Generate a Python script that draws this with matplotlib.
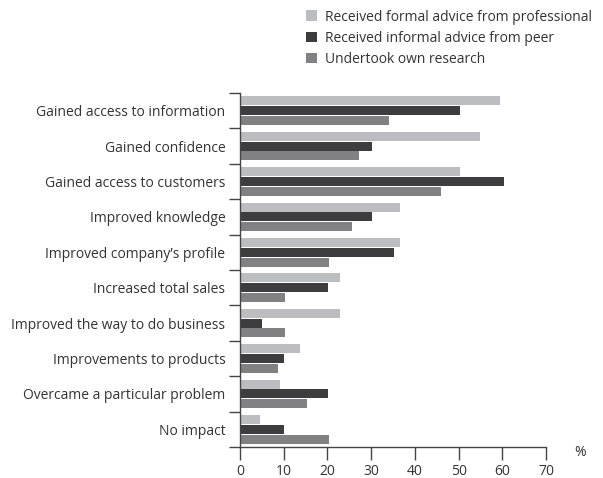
import numpy as np
import matplotlib.pyplot as plt
from matplotlib.patches import Patch

categories = [
    'Gained access to information',
    'Gained confidence',
    'Gained access to customers',
    'Improved knowledge',
    "Improved company\u2019s profile",
    'Increased total sales',
    'Improved the way to do business',
    'Improvements to products',
    'Overcame a particular problem',
    'No impact',
]
formal = [59.5, 54.9, 50.3, 36.6, 36.6, 22.9, 22.9, 13.7, 9.2, 4.6]
informal = [50.3, 30.2, 60.4, 30.2, 35.2, 20.1, 5.0, 10.1, 20.1, 10.1]
research = [34.1, 27.2, 46.0, 25.6, 20.4, 10.3, 10.3, 8.7, 15.3, 20.4]

series_names = ['Received formal advice from professional',
                'Received informal advice from peer',
                'Undertook own research']
colors = ['#bcbdc0', '#3d3d3f', '#818184']

plt.rcParams['font.family'] = ['Open Sans', 'DejaVu Sans']
text_col = '#333333'

fig = plt.figure(figsize=(6.03, 4.78), dpi=100)
ax = fig.add_axes([240 / 603, 1 - 447 / 478, 306 / 603, 354 / 478])

y = np.arange(len(categories))
h = 0.255
step = 0.275
for i, (vals, c) in enumerate(zip([formal, informal, research], colors)):
    ax.barh(y + (i - 1) * step, vals, height=h, color=c, label=series_names[i])

ax.set_ylim(len(categories) - 0.5, -0.5)
ax.set_xlim(0, 70)
ax.set_xticks(range(0, 71, 10))
ax.set_yticks(y)
ax.set_yticklabels(categories)
ax.set_yticks(np.arange(-0.5, len(categories), 1), minor=True)

for s in ['top', 'right']:
    ax.spines[s].set_visible(False)
for s in ['left', 'bottom']:
    ax.spines[s].set_color('#444444')
    ax.spines[s].set_linewidth(1.0)

ax.tick_params(axis='y', which='major', length=0, pad=10.5, labelsize=10, labelcolor=text_col)
ax.tick_params(axis='y', which='minor', length=8, width=1, color='#444444')
ax.tick_params(axis='x', length=9, width=1, color='#444444', labelsize=10, labelcolor=text_col, pad=3)

fig.text(580 / 603, 1 - 452 / 478, '%', fontsize=10, color=text_col, ha='center', va='center')

handles = [Patch(facecolor=c, label=n) for c, n in zip(colors, series_names)]
fig.legend(handles=handles, loc='upper left', bbox_to_anchor=(293 / 603, 1 + 3 / 478),
           frameon=False, fontsize=10, handlelength=0.8, handleheight=0.8,
           handletextpad=0.6, labelspacing=0.45, labelcolor=text_col)

fig.savefig('out.png', dpi=100)
